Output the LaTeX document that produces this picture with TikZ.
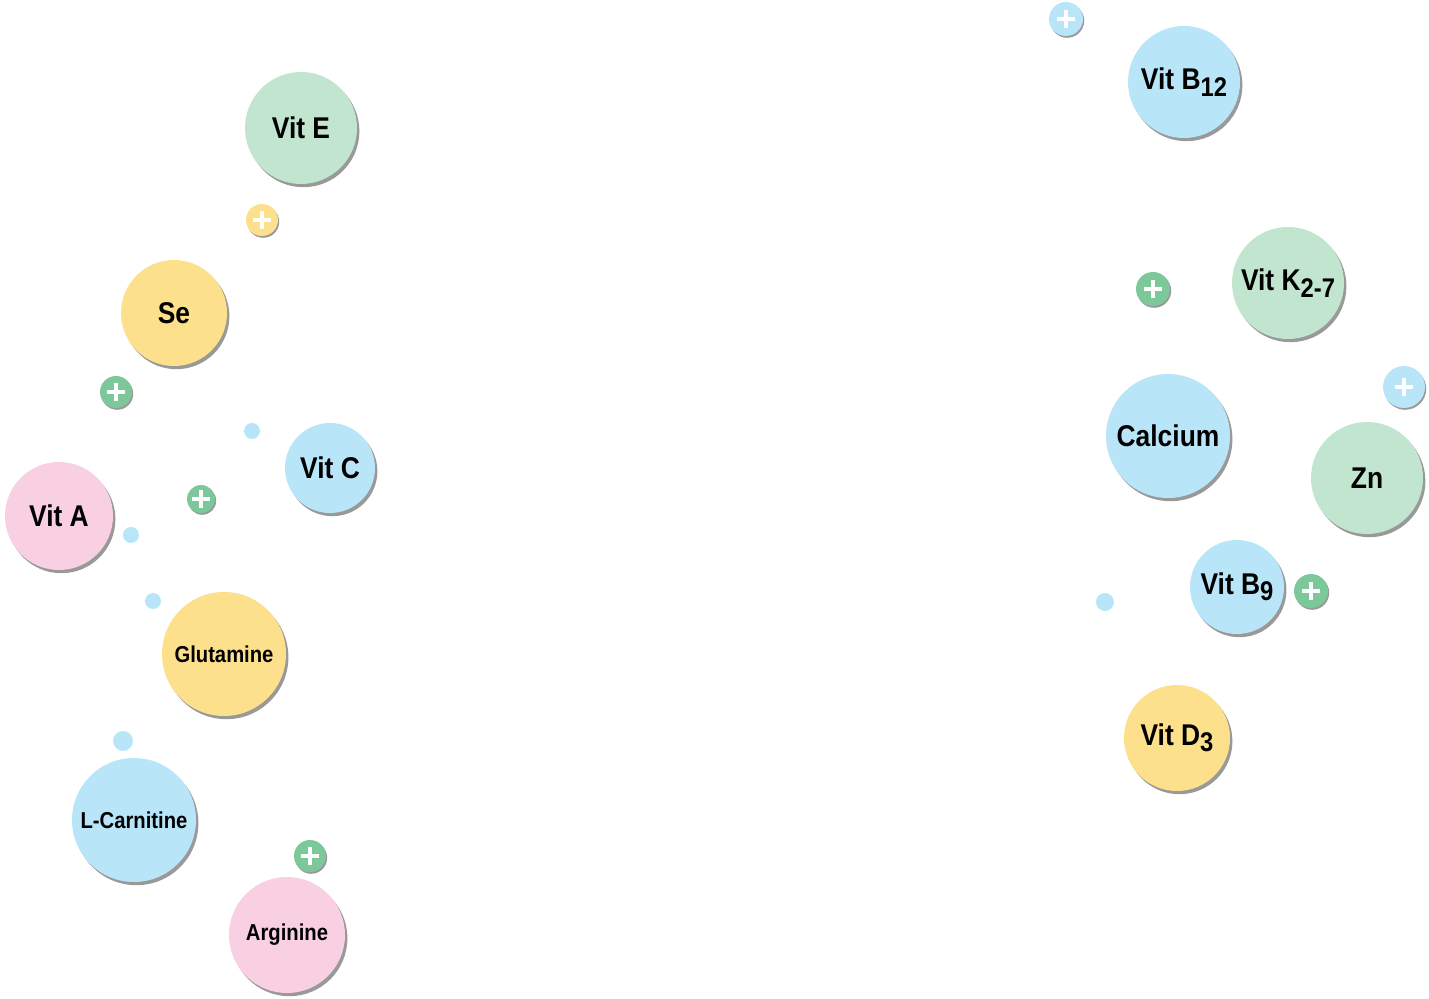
\documentclass[tikz,border=0pt]{standalone}
\usepackage{fontspec}
\usepackage{tikz}
\usetikzlibrary{shadows}
\newfontfamily\bubblefont[FakeStretch=0.88]{Liberation Sans}

\definecolor{bblue}{HTML}{B8E6F8}
\definecolor{bgreen}{HTML}{C2E5CF}
\definecolor{byellow}{HTML}{FDE08C}
\definecolor{bpink}{HTML}{F8D0E2}
\definecolor{pgreen}{HTML}{7DC89A}

\newcommand{\lowidx}[1]{\raisebox{-0.4ex}{\fontsize{0.9em}{1em}\selectfont #1}}

\begin{document}
\begin{tikzpicture}[x=0.5pt,y=-0.5pt,
	  bubble/.style={circle,inner sep=0pt,font=\bubblefont\bfseries\fontsize{15pt}{17pt}\selectfont,
	                 general shadow={fill=black!40,shadow xshift=1.2pt,shadow yshift=-1.6pt}},
	  small/.style={font=\bubblefont\bfseries\fontsize{11.5pt}{13pt}\selectfont}]
	  \tikzstyle{plus}=[circle,inner sep=0pt,
	                    general shadow={fill=black!40,shadow xshift=0.6pt,shadow yshift=-0.9pt},
	                    path picture={
	                      \draw[white,line width=2.4pt]
	                        ([xshift=-4.6pt]path picture bounding box.center) -- ([xshift=4.6pt]path picture bounding box.center)
	                        ([yshift=-4.6pt]path picture bounding box.center) -- ([yshift=4.6pt]path picture bounding box.center);}]
	  \tikzstyle{dot}=[circle,inner sep=0pt,fill=bblue]

	  \useasboundingbox (0,0) rectangle (1429,999);

	  % left group
	  \node[bubble,fill=bgreen,minimum size=56pt]  (vitE) at (301,128) {Vit E};
	  \node[plus,fill=byellow,minimum size=16pt]   (p1)   at (262,220) {};
	  \node[bubble,fill=byellow,minimum size=53pt] (se)   at (174,313) {Se};
	  \node[plus,fill=pgreen,minimum size=16pt]    (p2)   at (116,392) {};
	  \node[dot,minimum size=8pt]                  (d1)   at (252,431) {};
	  \node[bubble,fill=bblue,minimum size=45pt]   (vitC) at (330,468) {Vit C};
	  \node[bubble,fill=bpink,minimum size=54pt]   (vitA) at (59,516)  {Vit A};
	  \node[plus,fill=pgreen,minimum size=14pt]    (p3)   at (201,499) {};
	  \node[dot,minimum size=8pt]                  (d2)   at (131,535) {};
	  \node[dot,minimum size=8pt]                  (d3)   at (153,601) {};
	  \node[bubble,small,fill=byellow,minimum size=62pt] (glut) at (224,654) {Glutamine};
	  \node[dot,minimum size=10pt]                 (d4)   at (123,741) {};
	  \node[bubble,small,fill=bblue,minimum size=62pt]   (lcar) at (134,820) {L-Carnitine};
	  \node[plus,fill=pgreen,minimum size=16pt]    (p4)   at (310,856) {};
	  \node[bubble,small,fill=bpink,minimum size=58pt]   (arg)  at (287,935) {Arginine};

	  % right group
	  \node[plus,fill=bblue,minimum size=17pt]     (p5)   at (1066,19)  {};
	  \node[bubble,fill=bblue,minimum size=56pt]   (vitB) at (1184,82)  {Vit B\lowidx{12}};
	  \node[plus,fill=pgreen,minimum size=17pt]    (p6)   at (1153,289) {};
	  \node[bubble,fill=bgreen,minimum size=56pt]  (vitK) at (1288,283) {Vit K\lowidx{2-7}};
	  \node[plus,fill=bblue,minimum size=21pt]     (p7)   at (1404,387) {};
	  \node[bubble,fill=bblue,minimum size=62pt]   (calc) at (1168,436) {Calcium};
	  \node[bubble,fill=bgreen,minimum size=56pt]  (zn)   at (1367,478) {Zn};
	  \node[bubble,fill=bblue,minimum size=47pt]   (vitF) at (1237,587) {Vit B\lowidx{9}};
	  \node[plus,fill=pgreen,minimum size=17pt]    (p8)   at (1311,591) {};
	  \node[dot,minimum size=9pt]                  (d5)   at (1105,602) {};
	  \node[bubble,fill=byellow,minimum size=53pt] (vitD) at (1177,738) {Vit D\lowidx{3}};
	\end{tikzpicture}
\end{document}
